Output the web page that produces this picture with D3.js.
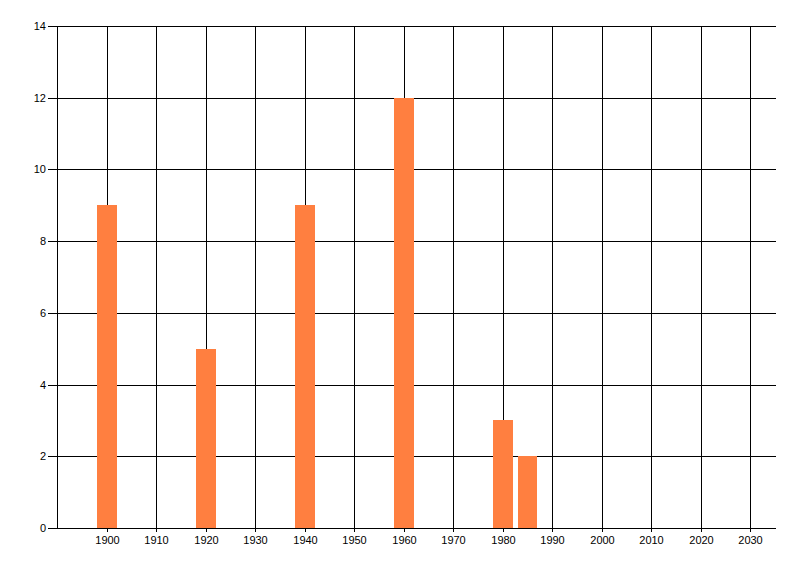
<!DOCTYPE html>
<html lang="en">
<head>
<meta charset="utf-8">
<title>Bar chart</title>
<script src="https://cdn.jsdelivr.net/npm/d3@7"></script>
<style>
  body { margin: 0; background: #fff; }
  svg text { font-family: "Liberation Sans", Arial, sans-serif; font-size: 11px; fill: #000; }
</style>
</head>
<body>
<script>
// data
var years = [1900, 1920, 1940, 1960, 1980, 1985];
var counts = [9, 5, 9, 12, 3, 2];
var xTicks = [1900, 1910, 1920, 1930, 1940, 1950, 1960, 1970, 1980, 1990, 2000, 2010, 2020, 2030];
var yTicks = [0, 2, 4, 6, 8, 10, 12, 14];

var w = 800, h = 576;
var barHalf = 2; // years either side of the bar's centre

var x = d3.scaleLinear().domain([1890, 2035]).rangeRound([57.3, 774.9]);
var y = d3.scaleLinear().domain([0, 14]).rangeRound([528, 26]);

var svg = d3.select('body').append('svg')
    .attr('width', w)
    .attr('height', h);

// vertical grid + year labels (grid runs 4px below the axis as a tick)
var xAxis = svg.append('g')
    .attr('transform', 'translate(0,' + y(0) + ')')
    .call(d3.axisBottom(x).tickValues(xTicks).tickFormat(d3.format('d'))
        .tickSizeInner(-(y(0) - y(14))).tickSizeOuter(0).tickPadding(8));
xAxis.select('.domain').remove();
xAxis.selectAll('line').attr('y1', 4).attr('stroke', '#000');

// horizontal grid + value labels
var yAxis = svg.append('g')
    .attr('transform', 'translate(776,0)')
    .call(d3.axisLeft(y).tickValues(yTicks)
        .tickSizeInner(728).tickSizeOuter(0).tickPadding(2));
yAxis.select('.domain').remove();
yAxis.selectAll('line').attr('stroke', '#000');

// bars cover the grid
svg.selectAll('rect')
   .data(years)
   .enter()
   .append('rect')
   .attr('x', function(d) { return x(d - barHalf); })
   .attr('y', function(d, i) { return y(counts[i]); })
   .attr('width', function(d) { return x(d + barHalf) - x(d - barHalf); })
   .attr('height', function(d, i) { return y(0) - y(counts[i]); })
   .attr('fill', '#ff7f40');

// axis lines on top
svg.append('line')
   .attr('x1', x(1890) + 0.5).attr('x2', x(1890) + 0.5)
   .attr('y1', y(14)).attr('y2', y(0) + 1)
   .attr('stroke', '#000');
svg.append('line')
   .attr('x1', 48).attr('x2', 776)
   .attr('y1', y(0) + 0.5).attr('y2', y(0) + 0.5)
   .attr('stroke', '#000');
</script>
</body>
</html>
